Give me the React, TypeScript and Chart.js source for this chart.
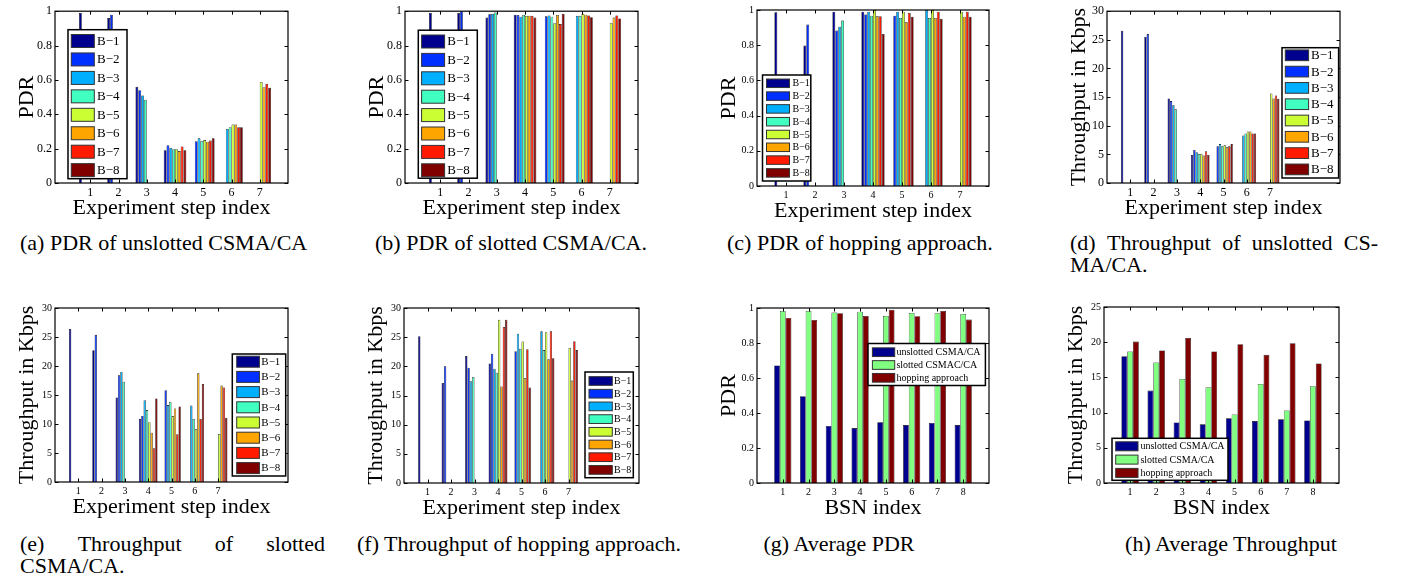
import React, { useEffect, useRef } from 'react';
import { Chart, registerables } from 'chart.js';

Chart.register(...registerables);
Chart.defaults.color = '#000';

const SERIF = "'Liberation Serif', 'Times New Roman', Times, serif";
const N = null;

// ---------- categories / labels ----------
const STEPS = [1, 2, 3, 4, 5, 6, 7];
const BSN = [1, 2, 3, 4, 5, 6, 7, 8];
const B_NAMES = ['B−1', 'B−2', 'B−3', 'B−4', 'B−5', 'B−6', 'B−7', 'B−8'];
const AVG_NAMES_PDR = ['unslotted CSMA/CA', 'slotted CSMAC/CA', 'hopping approach'];
const AVG_NAMES_THR = ['unslotted CSMA/CA', 'slotted CSMA/CA', 'hopping approach'];
const JET8 = ['#00008F', '#0030FF', '#00B0FF', '#40FFC0', '#CCFF33', '#FFA500', '#FF1A00', '#800000'];
const AVG_COLORS = ['#00008F', '#80FF80', '#800000'];

// ---------- (a) PDR of unslotted CSMA/CA : rows B-1..B-8, columns step 1..7 ----------
const pdrUnslotted = [
  [0.99, 0.96, 0.56, 0.19, N, N, N],
  [N, 0.98, 0.54, 0.22, 0.243, N, N],
  [N, N, 0.51, 0.205, 0.26, 0.315, N],
  [N, N, 0.485, 0.197, 0.245, 0.325, N],
  [N, N, N, 0.197, 0.25, 0.34, 0.588],
  [N, N, N, 0.186, 0.24, 0.34, 0.558],
  [N, N, N, 0.213, 0.247, 0.325, 0.577],
  [N, N, N, 0.19, 0.26, 0.325, 0.554],
];

// ---------- (b) PDR of slotted CSMA/CA ----------
const pdrSlotted = [
  [0.99, 0.99, 0.963, 0.98, N, N, N],
  [N, 1.0, 0.982, 0.978, 0.97, N, N],
  [N, N, 0.985, 0.968, 0.975, 0.973, N],
  [N, N, 0.993, 0.978, 0.968, 0.973, N],
  [N, N, N, 0.973, 0.93, 0.985, 0.932],
  [N, N, N, 0.974, 0.978, 0.98, 0.963],
  [N, N, N, 0.973, 0.925, 0.975, 0.975],
  [N, N, N, 0.963, 0.985, 0.965, 0.958],
];

// ---------- (c) PDR of hopping approach ----------
const pdrHopping = [
  [0.987, 0.798, 0.99, 0.99, N, N, N],
  [N, 0.917, 0.883, 0.975, 0.968, N, N],
  [N, N, 0.905, 0.99, 0.99, 1.0, N],
  [N, N, 0.94, 0.968, 0.955, 0.955, N],
  [N, N, N, 1.0, 0.99, 1.0, 0.99],
  [N, N, N, 0.964, 0.93, 0.955, 0.962],
  [N, N, N, 0.965, 0.983, 0.99, 0.99],
  [N, N, N, 0.864, 0.962, 0.95, 0.962],
];

// ---------- (d) Throughput of unslotted CSMA/CA ----------
const thrUnslotted = [
  [26.6, 25.56, 14.77, 4.9, N, N, N],
  [N, 26.0, 14.3, 5.77, 6.4, N, N],
  [N, N, 13.56, 5.37, 6.8, 8.3, N],
  [N, N, 12.87, 5.08, 6.4, 8.65, N],
  [N, N, N, 5.1, 6.58, 9.0, 15.64],
  [N, N, N, 4.79, 6.23, 9.0, 14.77],
  [N, N, N, 5.54, 6.4, 8.65, 15.3],
  [N, N, N, 4.9, 6.8, 8.65, 14.7],
];

// ---------- (e) Throughput of slotted CSMA/CA ----------
const thrSlotted = [
  [26.4, 22.7, 14.57, 10.9, N, N, N],
  [N, 25.37, 18.4, 11.4, 15.83, N, N],
  [N, N, 19.03, 14.1, 13.26, 13.2, N],
  [N, N, 17.3, 12.4, 13.83, 10.86, N],
  [N, N, N, 10.3, 11.37, 9.09, 8.29],
  [N, N, N, 8.5, 12.69, 18.74, 16.63],
  [N, N, N, 5.83, 8.23, 10.86, 16.29],
  [N, N, N, 14.4, 13.03, 16.91, 11.09],
];

// ---------- (f) Throughput of hopping approach ----------
const thrHopping = [
  [25.17, 17.16, 21.76, 20.5, N, N, N],
  [N, 20.0, 19.77, 22.16, 22.6, N, N],
  [N, N, 17.44, 19.6, 25.6, 26.0, N],
  [N, N, 18.18, 18.92, 23.0, 22.78, N],
  [N, N, N, 28.0, 24.26, 25.85, 23.18],
  [N, N, N, 16.53, 17.95, 21.2, 17.56],
  [N, N, N, 26.76, 22.95, 26.0, 24.3],
  [N, N, N, 28.0, 16.36, 21.4, 22.78],
];

// ---------- (g) Average PDR per BSN ----------
const avgPdrUnslotted = [0.672, 0.496, 0.326, 0.314, 0.347, 0.331, 0.343, 0.331];
const avgPdrSlotted = [0.983, 0.983, 0.975, 0.979, 0.955, 0.972, 0.97, 0.966];
const avgPdrHopping = [0.943, 0.932, 0.97, 0.955, 0.99, 0.953, 0.983, 0.934];

// ---------- (h) Average Throughput per BSN ----------
const avgThrUnslotted = [18.02, 13.13, 8.61, 8.33, 9.18, 8.8, 9.04, 8.89];
const avgThrSlotted = [18.68, 17.13, 14.78, 13.6, 9.74, 14.07, 10.3, 13.74];
const avgThrHopping = [20.09, 18.82, 20.61, 18.68, 19.72, 18.21, 19.86, 16.99];

type LegendCfg = {
  x: number; y: number; w: number; h: number;
  first: number; step: number; sx: number; sw: number; sh: number; tx: number; font: number;
};

type PanelCfg = {
  area: [number, number, number, number];
  xMin: number; xMax: number; xValues: number[];
  yMax: number; yStep: number;
  yTitle: string; xTitle: string;
  series: (number | null)[][];
  names: string[]; colors: string[];
  groupWidth: number; tickFont: number;
  legend: LegendCfg;
};

const Y_W = 55;
const X_H = 38;
const PAD_T = 8;
const PAD_R = 8;
const TITLE_FONT = 22;

const PANELS: PanelCfg[] = [
  {
    area: [55, 9, 288, 183], xMin: -0.25, xMax: 8, xValues: STEPS, yMax: 1, yStep: 0.2,
    yTitle: 'PDR', xTitle: 'Experiment step index', series: pdrUnslotted, names: B_NAMES, colors: JET8,
    groupWidth: 0.8, tickFont: 12,
    legend: { x: 13, y: 18.5, w: 59, h: 149, first: 11.3, step: 18.45, sx: 3.3, sw: 23, sh: 13, tx: 29, font: 13 },
  },
  {
    area: [405, 9, 638, 183], xMin: -0.25, xMax: 8, xValues: STEPS, yMax: 1, yStep: 0.2,
    yTitle: 'PDR', xTitle: 'Experiment step index', series: pdrSlotted, names: B_NAMES, colors: JET8,
    groupWidth: 0.8, tickFont: 12,
    legend: { x: 13.3, y: 19, w: 59, h: 148, first: 11.3, step: 18.4, sx: 3.3, sw: 23, sh: 13, tx: 29, font: 13 },
  },
  {
    area: [757, 9, 989, 186], xMin: 0, xMax: 8, xValues: STEPS, yMax: 1, yStep: 0.2,
    yTitle: 'PDR', xTitle: 'Experiment step index', series: pdrHopping, names: B_NAMES, colors: JET8,
    groupWidth: 0.8, tickFont: 10,
    legend: { x: 5.5, y: 65, w: 48.3, h: 106, first: 8.3, step: 12.8, sx: 4, sw: 23, sh: 8.5, tx: 30, font: 10 },
  },
  {
    area: [1107, 9, 1340, 183], xMin: 0, xMax: 10, xValues: STEPS, yMax: 30, yStep: 5,
    yTitle: 'Throughput in Kbps', xTitle: 'Experiment step index', series: thrUnslotted, names: B_NAMES, colors: JET8,
    groupWidth: 0.8, tickFont: 12,
    legend: { x: 175, y: 36.5, w: 56.6, h: 130.3, first: 7.6, step: 16.3, sx: 3.3, sw: 23.3, sh: 10.7, tx: 29, font: 13 },
  },
  {
    area: [55, 307, 288, 482], xMin: 0, xMax: 10, xValues: STEPS, yMax: 30, yStep: 5,
    yTitle: 'Throughput in Kbps', xTitle: 'Experiment step index', series: thrSlotted, names: B_NAMES, colors: JET8,
    groupWidth: 0.8, tickFont: 10,
    legend: { x: 177.3, y: 46, w: 53.4, h: 122, first: 7.7, step: 15.2, sx: 4.4, sw: 22.7, sh: 11, tx: 29, font: 11 },
  },
  {
    area: [404, 307, 639, 483], xMin: 0, xMax: 10, xValues: STEPS, yMax: 30, yStep: 5,
    yTitle: 'Throughput in Kbps', xTitle: 'Experiment step index', series: thrHopping, names: B_NAMES, colors: JET8,
    groupWidth: 0.8, tickFont: 10,
    legend: { x: 181, y: 64, w: 48.3, h: 105.7, first: 9, step: 12.7, sx: 4, sw: 23.3, sh: 8.7, tx: 29, font: 10 },
  },
  {
    area: [757, 307, 989, 483], xMin: 0, xMax: 9, xValues: BSN, yMax: 1, yStep: 0.2,
    yTitle: 'PDR', xTitle: 'BSN index', series: [avgPdrUnslotted, avgPdrSlotted, avgPdrHopping],
    names: AVG_NAMES_PDR, colors: AVG_COLORS, groupWidth: 0.667, tickFont: 10,
    legend: { x: 111, y: 35.5, w: 117.4, h: 42, first: 8.7, step: 12.8, sx: 4.4, sw: 22.3, sh: 8.7, tx: 28.4, font: 10 },
  },
  {
    area: [1104, 306, 1339, 483], xMin: 0, xMax: 9, xValues: BSN, yMax: 25, yStep: 5,
    yTitle: 'Throughput in Kbps', xTitle: 'BSN index', series: [avgThrUnslotted, avgThrSlotted, avgThrHopping],
    names: AVG_NAMES_THR, colors: AVG_COLORS, groupWidth: 0.667, tickFont: 10,
    legend: { x: 8, y: 131.3, w: 116, h: 42, first: 8, step: 13.3, sx: 3.7, sw: 22.3, sh: 9, tx: 28.4, font: 10 },
  },
];

type Caption = { left?: number; center?: number; top: number; width?: number; lines: string[]; justify?: boolean };

const CAPTIONS: Caption[] = [
  { left: 20, top: 232, lines: ['(a) PDR of unslotted CSMA/CA'] },
  { left: 375, top: 232, lines: ['(b) PDR of slotted CSMA/CA.'] },
  { left: 727, top: 232, lines: ['(c) PDR of hopping approach.'] },
  { left: 1070, top: 232, width: 308, lines: ['(d) Throughput of unslotted CS-', 'MA/CA.'], justify: true },
  { left: 20, top: 533, width: 305, lines: ['(e) Throughput of slotted', 'CSMA/CA.'], justify: true },
  { left: 357, top: 533, lines: ['(f) Throughput of hopping approach.'] },
  { center: 839, top: 533, lines: ['(g) Average PDR'] },
  { center: 1231, top: 533, lines: ['(h) Average Throughput'] },
];

function Panel({ cfg }: { cfg: PanelCfg }) {
  const ref = useRef<HTMLCanvasElement>(null);
  const [L, T, R, B] = cfg.area;
  const cw = R - L + Y_W + PAD_R;
  const ch = B - T + PAD_T + X_H;

  useEffect(() => {
    if (!ref.current) return;
    const datasets = cfg.names.map((name, i) => ({
      label: name,
      data: cfg.xValues.map((x, j) => ({ x, y: cfg.series[i][j] })),
      backgroundColor: cfg.colors[i],
      borderColor: '#000',
      borderWidth: 0.6,
      categoryPercentage: cfg.groupWidth,
      barPercentage: 1,
    }));

    const boxPlugin = {
      id: 'matlabBox',
      afterDatasetsDraw(chart: any) {
        const { ctx, chartArea: a, scales } = chart;
        ctx.save();
        ctx.strokeStyle = '#000';
        ctx.lineWidth = 1.2;
        ctx.strokeRect(a.left, a.top, a.right - a.left, a.bottom - a.top);
        ctx.lineWidth = 1;
        const tl = 3.5;
        scales.y.ticks.forEach((t: any) => {
          const py = Math.round(scales.y.getPixelForValue(t.value)) + 0.5;
          ctx.beginPath();
          ctx.moveTo(a.left, py); ctx.lineTo(a.left + tl, py);
          ctx.moveTo(a.right, py); ctx.lineTo(a.right - tl, py);
          ctx.stroke();
        });
        scales.x.ticks.forEach((t: any) => {
          const px = Math.round(scales.x.getPixelForValue(t.value)) + 0.5;
          ctx.beginPath();
          ctx.moveTo(px, a.bottom); ctx.lineTo(px, a.bottom - tl);
          ctx.moveTo(px, a.top); ctx.lineTo(px, a.top + tl);
          ctx.stroke();
        });
        ctx.restore();
      },
    };

    const legendPlugin = {
      id: 'boxLegend',
      afterDraw(chart: any) {
        const { ctx, chartArea: a } = chart;
        const lg = cfg.legend;
        const x0 = a.left + lg.x;
        const y0 = a.top + lg.y;
        ctx.save();
        ctx.fillStyle = '#fff';
        ctx.fillRect(x0, y0, lg.w, lg.h);
        ctx.strokeStyle = '#000';
        ctx.lineWidth = 1.5;
        ctx.strokeRect(x0, y0, lg.w, lg.h);
        chart.data.datasets.forEach((d: any, i: number) => {
          const cy = y0 + lg.first + i * lg.step;
          ctx.fillStyle = d.backgroundColor;
          ctx.fillRect(x0 + lg.sx, cy - lg.sh / 2, lg.sw, lg.sh);
          ctx.strokeStyle = '#333';
          ctx.lineWidth = 1;
          ctx.strokeRect(x0 + lg.sx, cy - lg.sh / 2, lg.sw, lg.sh);
          ctx.fillStyle = '#000';
          ctx.font = `${lg.font}px ${SERIF}`;
          ctx.textBaseline = 'middle';
          ctx.textAlign = 'left';
          ctx.fillText(d.label, x0 + lg.tx, cy + 0.5);
        });
        ctx.restore();
      },
    };

    const chart = new Chart(ref.current, {
      type: 'bar',
      data: { datasets } as any,
      plugins: [boxPlugin, legendPlugin],
      options: {
        animation: false,
        responsive: false,
        maintainAspectRatio: false,
        layout: { padding: { top: PAD_T, right: PAD_R, left: 0, bottom: 0 } },
        plugins: { legend: { display: false }, tooltip: { enabled: false }, title: { display: false } },
        scales: {
          x: {
            type: 'linear',
            min: cfg.xMin,
            max: cfg.xMax,
            offset: false,
            afterBuildTicks: (axis: any) => {
              axis.ticks = cfg.xValues.map((v) => ({ value: v }));
            },
            afterFit: (s: any) => { s.height = X_H; },
            ticks: {
              autoSkip: false, maxRotation: 0, padding: 3, color: '#000',
              font: { family: SERIF, size: cfg.tickFont },
              callback: (v: any) => String(v),
            },
            grid: { display: false, drawTicks: false },
            border: { display: false },
            title: {
              display: true, text: cfg.xTitle, color: '#000',
              font: { family: SERIF, size: TITLE_FONT }, padding: { top: 0, bottom: 0 },
            },
          },
          y: {
            min: 0,
            max: cfg.yMax,
            afterFit: (s: any) => { s.width = Y_W; },
            ticks: {
              stepSize: cfg.yStep, padding: 3, color: '#000',
              font: { family: SERIF, size: cfg.tickFont },
              callback: (v: any) => String(Number(Number(v).toFixed(2))),
            },
            grid: { display: false, drawTicks: false },
            border: { display: false },
            title: {
              display: true, text: cfg.yTitle, color: '#000',
              font: { family: SERIF, size: TITLE_FONT }, padding: { top: 14, bottom: 0 },
            },
          },
        },
      } as any,
    });
    return () => chart.destroy();
  }, [cfg]);

  return (
    <canvas
      ref={ref}
      width={cw}
      height={ch}
      style={{ position: 'absolute', left: L - Y_W, top: T - PAD_T, width: cw, height: ch }}
    />
  );
}

function CaptionView({ c }: { c: Caption }) {
  const base: React.CSSProperties = {
    position: 'absolute',
    top: c.top,
    fontFamily: SERIF,
    fontSize: 22,
    lineHeight: '22px',
    whiteSpace: 'nowrap',
    color: '#000',
  };
  if (c.center !== undefined) {
    return (
      <div style={{ ...base, left: c.center - 200, width: 400, textAlign: 'center' }}>{c.lines[0]}</div>
    );
  }
  return (
    <div style={{ ...base, left: c.left, width: c.width }}>
      {c.lines.map((line, i) =>
        c.justify && i === 0 ? (
          <div key={i} style={{ display: 'flex', justifyContent: 'space-between', width: c.width }}>
            {line.split(' ').map((w, k) => (
              <span key={k}>{w}</span>
            ))}
          </div>
        ) : (
          <div key={i}>{line}</div>
        )
      )}
    </div>
  );
}

export default function App() {
  return (
    <div
      style={{
        position: 'fixed', left: 0, top: 0, width: 1406, height: 583,
        background: '#fff', overflow: 'hidden',
      }}
    >
      {PANELS.map((p, i) => (
        <Panel key={i} cfg={p} />
      ))}
      {CAPTIONS.map((c, i) => (
        <CaptionView key={i} c={c} />
      ))}
    </div>
  );
}
